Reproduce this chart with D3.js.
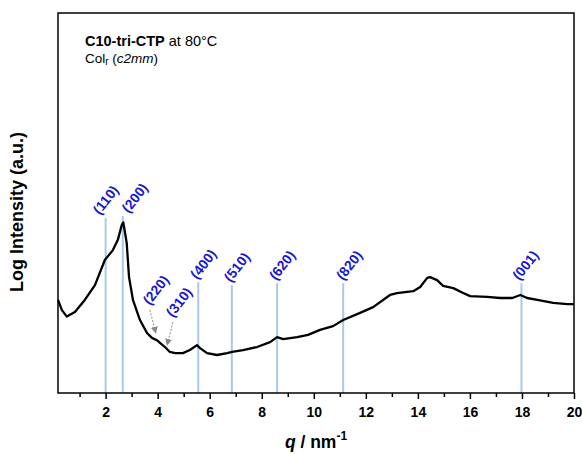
<!DOCTYPE html>
<html>
<head>
<meta charset="utf-8">
<script src="https://cdn.jsdelivr.net/npm/d3@7"></script>
<style>
  body { margin: 0; background: #fff; }
  svg { font-family: "Liberation Sans", Arial, sans-serif; }
</style>
</head>
<body>
<div id="chart"></div>
<script>
// curve: q (nm^-1) and log intensity (arbitrary units)
var qVals = [0.17, 0.32, 0.51, 0.82, 1.20, 1.59, 1.97, 2.28, 2.47, 2.62, 2.68, 2.81, 2.90, 3.05,
  3.32, 3.59, 3.78, 3.97, 4.09, 4.28, 4.47, 4.67, 4.97, 5.24, 5.51, 5.63, 5.90, 6.28, 6.67,
  6.86, 7.28, 7.82, 8.32, 8.59, 8.82, 9.36, 9.78, 10.24, 10.74, 11.13, 11.78, 12.28, 12.93,
  13.20, 13.82, 14.09, 14.36, 14.47, 14.74, 14.97, 15.36, 15.74, 16.01, 16.66, 17.16, 17.63,
  17.94, 18.20, 18.59, 19.20, 19.74, 20.0];
var intensity = [24.5, 21.8, 20.1, 21.3, 24.5, 28.4, 35.0, 37.6, 40.3, 44.2, 44.9, 39.5, 30.5, 24.5,
  19.2, 15.8, 14.5, 13.9, 13.2, 12.1, 10.8, 10.5, 10.5, 11.3, 12.6, 11.8, 10.5, 10.0, 10.5,
  10.8, 11.3, 12.1, 13.4, 14.7, 14.2, 14.7, 15.3, 16.6, 17.6, 19.2, 21.1, 22.6, 25.8,
  26.3, 26.8, 27.9, 30.3, 30.5, 29.7, 28.2, 27.6, 26.3, 25.5, 25.3, 25.0, 25.0,
  25.8, 25.0, 24.5, 23.7, 23.4, 23.4];

// indexed reflections (line + label)
var peakLabels = ["(110)", "(200)", "(400)", "(510)", "(620)", "(820)", "(001)"];
var peakQ = [2.0, 2.66, 5.56, 6.85, 8.59, 11.13, 17.98];
var peakTop = [46.1, 46.6, 29.2, 28.4, 28.9, 28.9, 28.9];

// weak reflections marked by arrows
var weakLabels = ["(220)", "(310)"];
var weakQ = [3.93, 4.36];
var weakI = [15.8, 12.6];

var xTicks = [2, 4, 6, 8, 10, 12, 14, 16, 18, 20];

var W = 582, H = 454;
var margin = {top: 13, right: 8, bottom: 61, left: 58};
var width = W - margin.left - margin.right, height = H - margin.top - margin.bottom;

var svg = d3.select("#chart").append("svg")
  .attr("width", W).attr("height", H)
  .append("g")
  .attr("transform", "translate(" + margin.left + "," + margin.top + ")");

var x = d3.scaleLinear().domain([0.17, 20]).range([0, width]);
var y = d3.scaleLinear().domain([0, 100]).range([height, 0]);

// reflection lines
svg.selectAll(".peakline")
  .data(peakQ)
  .enter().append("line")
  .attr("x1", d => x(d)).attr("x2", d => x(d))
  .attr("y1", height)
  .attr("y2", (d, i) => y(peakTop[i]))
  .attr("stroke", "#a9c9ea")
  .attr("stroke-width", 2);

// curve
var line = d3.line()
  .x((d, i) => x(qVals[i]))
  .y(d => y(d));
svg.append("path")
  .datum(intensity)
  .attr("d", line)
  .attr("fill", "none")
  .attr("stroke", "#000")
  .attr("stroke-width", 2.3)
  .attr("stroke-linejoin", "round");

// peak labels
var dxs = [0, 12, 5, 5, 5, 6, 4];
svg.selectAll(".peaklab")
  .data(peakLabels)
  .enter().append("text")
  .attr("transform", (d, i) => "translate(" + (x(peakQ[i]) + dxs[i]) + "," + (y(peakTop[i]) - 18) + ") rotate(-52)")
  .attr("text-anchor", "middle")
  .attr("dy", "0.35em")
  .attr("font-size", 14)
  .attr("font-weight", "bold")
  .attr("fill", "#1818cc")
  .text(d => d);

// arrows for weak peaks
svg.append("defs").append("marker")
  .attr("id", "arr")
  .attr("viewBox", "0 0 10 10")
  .attr("refX", 9).attr("refY", 5)
  .attr("markerWidth", 7).attr("markerHeight", 7)
  .attr("markerUnits", "userSpaceOnUse")
  .attr("orient", "auto")
  .append("path")
  .attr("d", "M0,0 L10,5 L0,10 Z")
  .attr("fill", "#8a8a8a");

var adx = [-6, 6];
svg.selectAll(".weakarrow")
  .data(weakQ)
  .enter().append("line")
  .attr("x1", (d, i) => x(d) + adx[i])
  .attr("y1", (d, i) => y(weakI[i]) - 23)
  .attr("x2", d => x(d))
  .attr("y2", (d, i) => y(weakI[i]))
  .attr("stroke", "#8a8a8a")
  .attr("stroke-width", 1)
  .attr("stroke-dasharray", "2,1.5")
  .attr("marker-end", "url(#arr)");

svg.selectAll(".weaklab")
  .data(weakLabels)
  .enter().append("text")
  .attr("transform", (d, i) => "translate(" + (x(weakQ[i]) + adx[i] + 6) + "," + (y(weakI[i]) - 43) + ") rotate(-52)")
  .attr("text-anchor", "middle")
  .attr("dy", "0.35em")
  .attr("font-size", 14)
  .attr("font-weight", "bold")
  .attr("fill", "#1818cc")
  .text(d => d);

// frame
svg.append("rect")
  .attr("width", width).attr("height", height)
  .attr("fill", "none").attr("stroke", "#000").attr("stroke-width", 1.5);

// x axis
var xAxis = svg.append("g")
  .attr("transform", "translate(0," + height + ")")
  .call(d3.axisBottom(x).tickValues(xTicks).tickSize(6).tickPadding(8).tickFormat(d3.format("d")));
xAxis.select(".domain").remove();
xAxis.selectAll("line").attr("stroke-width", 1.5);
xAxis.selectAll("text")
  .attr("font-size", 14).attr("font-weight", "bold")
  .attr("font-family", "Liberation Sans, Arial, sans-serif").attr("fill", "#000");

var minor = svg.append("g")
  .attr("transform", "translate(0," + height + ")")
  .call(d3.axisBottom(x).tickValues(d3.range(1, 20, 2)).tickSize(4).tickFormat(""));
minor.select(".domain").remove();
minor.selectAll("line").attr("stroke-width", 1.5);

// axis titles
var xt = svg.append("text")
  .attr("x", width / 2).attr("y", height + 55)
  .attr("text-anchor", "middle")
  .attr("font-size", 17.5).attr("font-weight", "bold");
xt.append("tspan").attr("font-style", "italic").text("q");
xt.append("tspan").text(" / nm");
xt.append("tspan").attr("dy", -8).attr("font-size", 12).text("-1");

svg.append("text")
  .attr("transform", "translate(" + (-35) + "," + (height / 2 + 9) + ") rotate(-90)")
  .attr("text-anchor", "middle")
  .attr("font-size", 18).attr("font-weight", "bold")
  .text("Log Intensity (a.u.)");

// annotation
svg.append("text")
  .attr("x", 27).attr("y", 33)
  .attr("font-size", 14.5)
  .call(t => {
    t.append("tspan").attr("font-weight", "bold").text("C10-tri-CTP");
    t.append("tspan").text(" at 80°C");
  });
var a2 = svg.append("text")
  .attr("x", 27).attr("y", 50)
  .attr("font-size", 13.5);
a2.append("tspan").text("Col");
a2.append("tspan").attr("font-size", 10).attr("dy", 1.5).text("r");
a2.append("tspan").attr("dy", -1.5).text(" (");
a2.append("tspan").attr("font-style", "italic").text("c2mm");
a2.append("tspan").text(")");
</script>
</body>
</html>
